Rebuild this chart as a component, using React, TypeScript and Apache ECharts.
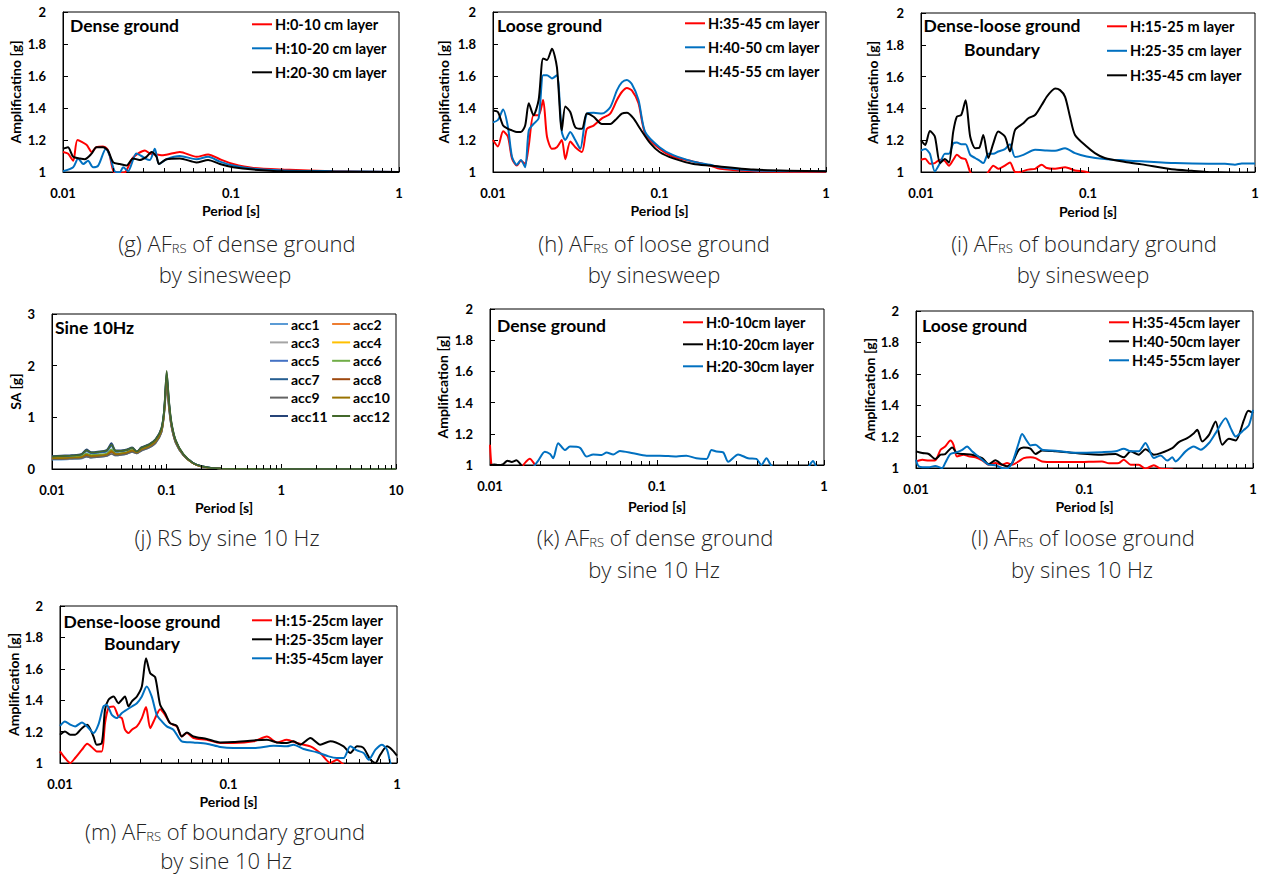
import React, { useEffect, useRef } from 'react';
import * as echarts from 'echarts';

// ---------------- DATA ----------------
// (g) dense ground, sinesweep  [period s, amplification]
const G_NAMES = ['H:0-10 cm layer', 'H:10-20 cm layer', 'H:20-30 cm layer'];
const G_RED = [[0.01,1.125],[0.0107,1.115],[0.0115,1.07],[0.0122,1.2],[0.0138,1.17],[0.0148,1.125],[0.0158,1.155],[0.0173,1.16],[0.0183,1.145],[0.019,1.1],[0.0201,1.0],[0.0218,0.995],[0.0235,1.0],[0.0261,1.09],[0.0307,1.135],[0.0329,1.115],[0.036,1.11],[0.0394,1.105],[0.0496,1.125],[0.0623,1.095],[0.0731,1.11],[0.0858,1.08],[0.103,1.05],[0.136,1.025],[0.205,1.015],[0.406,1.005],[1,1.0]];
const G_BLUE = [[0.01,1.005],[0.0115,1.03],[0.0123,1.085],[0.0132,1.05],[0.0141,1.07],[0.0151,1.03],[0.0162,1.04],[0.018,1.145],[0.019,1.1],[0.0203,1.005],[0.0218,0.998],[0.0228,1.03],[0.0244,1.005],[0.0273,1.115],[0.0293,1.1],[0.0314,1.08],[0.0329,1.075],[0.0352,1.145],[0.0373,1.05],[0.0413,1.08],[0.0496,1.1],[0.0623,1.08],[0.0731,1.095],[0.0858,1.065],[0.103,1.04],[0.136,1.02],[0.205,1.01],[0.406,1.005],[1,1.0]];
const G_BLACK = [[0.01,1.145],[0.0107,1.155],[0.0115,1.095],[0.0126,1.085],[0.0135,1.08],[0.0148,1.115],[0.0158,1.155],[0.0173,1.155],[0.0185,1.135],[0.0199,1.06],[0.0218,1.05],[0.0239,1.04],[0.0261,1.085],[0.0286,1.075],[0.0314,1.095],[0.0336,1.125],[0.036,1.095],[0.0373,1.05],[0.0413,1.08],[0.0496,1.085],[0.0623,1.06],[0.0731,1.075],[0.0858,1.05],[0.103,1.03],[0.136,1.015],[0.205,1.005],[1,1.0]];

// (h) loose ground, sinesweep
const H_NAMES = ['H:35-45 cm layer', 'H:40-50 cm layer', 'H:45-55 cm layer'];
const H_RED = [[0.01,1.2],[0.0107,1.16],[0.0115,1.255],[0.0123,1.22],[0.013,1.085],[0.0139,1.04],[0.0147,1.07],[0.0156,1.05],[0.0164,1.165],[0.0175,1.355],[0.0188,1.355],[0.02,1.45],[0.0211,1.22],[0.0226,1.145],[0.0242,1.155],[0.0259,1.2],[0.0272,1.08],[0.0291,1.19],[0.0312,1.155],[0.0342,1.125],[0.0366,1.27],[0.0402,1.29],[0.0451,1.335],[0.0506,1.365],[0.0555,1.45],[0.0594,1.5],[0.0637,1.525],[0.0682,1.51],[0.0748,1.43],[0.082,1.24],[0.1,1.145],[0.121,1.095],[0.16,1.065],[0.201,1.04],[0.231,1.02],[0.366,1.005],[1,1.0]];
const H_BLUE = [[0.01,1.31],[0.0107,1.325],[0.0115,1.39],[0.0123,1.28],[0.013,1.095],[0.0139,1.045],[0.0147,1.075],[0.0156,1.03],[0.0164,1.26],[0.0175,1.3],[0.0188,1.335],[0.02,1.605],[0.0211,1.605],[0.0226,1.585],[0.0242,1.605],[0.0259,1.25],[0.0272,1.2],[0.0291,1.25],[0.0312,1.2],[0.0334,1.145],[0.0366,1.365],[0.0402,1.37],[0.0451,1.365],[0.0506,1.405],[0.0555,1.51],[0.0594,1.56],[0.0637,1.575],[0.0682,1.55],[0.0748,1.45],[0.082,1.25],[0.1,1.155],[0.121,1.105],[0.16,1.065],[0.201,1.045],[0.231,1.03],[0.366,1.01],[1,1.005]];
const H_BLACK = [[0.01,1.385],[0.0107,1.375],[0.0115,1.29],[0.0123,1.27],[0.013,1.26],[0.0139,1.25],[0.0147,1.25],[0.0156,1.29],[0.0164,1.43],[0.0175,1.355],[0.0188,1.45],[0.02,1.71],[0.0211,1.7],[0.0226,1.77],[0.0242,1.655],[0.0259,1.26],[0.0272,1.41],[0.0291,1.375],[0.0312,1.28],[0.0342,1.27],[0.0366,1.365],[0.0402,1.345],[0.0451,1.3],[0.0506,1.3],[0.0555,1.335],[0.0594,1.365],[0.0637,1.37],[0.0698,1.335],[0.0766,1.27],[0.0879,1.18],[0.1,1.125],[0.121,1.085],[0.16,1.05],[0.201,1.04],[0.366,1.015],[1,1.005]];

// (i) boundary ground, sinesweep
const I_NAMES = ['H:15-25 m layer', 'H:25-35 cm layer', 'H:35-45 cm layer'];
const I_RED = [[0.01,1.077],[0.0106,1.083],[0.0113,1.052],[0.0121,1.056],[0.013,1.077],[0.0139,1.069],[0.0147,1.04],[0.0156,1.077],[0.0164,1.108],[0.0174,1.088],[0.0185,1.08],[0.0197,1.0],[0.021,0.96],[0.0236,0.96],[0.0253,1.0],[0.0271,1.04],[0.029,1.02],[0.0318,1.04],[0.0341,1.06],[0.0366,1.0],[0.0383,0.999],[0.0439,1.015],[0.0482,1.02],[0.0528,1.046],[0.0566,1.025],[0.0635,1.02],[0.0729,1.03],[0.0836,1.01],[0.0982,1.0],[0.11,0.97],[0.2,0.95],[1,0.95]];
const I_BLUE = [[0.01,1.135],[0.0106,1.144],[0.0113,1.115],[0.0121,1.004],[0.013,1.056],[0.0139,1.115],[0.0147,1.115],[0.0156,1.18],[0.0164,1.185],[0.0174,1.175],[0.0185,1.175],[0.0197,1.108],[0.0211,1.088],[0.0223,1.073],[0.0236,1.056],[0.0253,1.115],[0.0271,1.115],[0.029,1.129],[0.0318,1.144],[0.0341,1.175],[0.0366,1.094],[0.041,1.108],[0.0482,1.14],[0.0566,1.135],[0.0635,1.133],[0.0729,1.15],[0.0836,1.119],[0.0982,1.098],[0.126,1.081],[0.167,1.073],[0.21,1.067],[0.332,1.056],[0.526,1.052],[0.661,1.052],[0.759,1.046],[0.832,1.054],[1,1.054]];
const I_BLACK = [[0.01,1.2],[0.0106,1.17],[0.0113,1.258],[0.0121,1.223],[0.013,1.056],[0.0139,1.081],[0.0147,1.06],[0.0156,1.254],[0.0164,1.348],[0.0174,1.358],[0.0185,1.452],[0.0197,1.223],[0.0211,1.15],[0.0223,1.152],[0.0236,1.233],[0.0253,1.088],[0.0271,1.18],[0.029,1.254],[0.0318,1.223],[0.0341,1.129],[0.0366,1.265],[0.041,1.306],[0.0439,1.338],[0.0482,1.358],[0.0528,1.421],[0.0566,1.473],[0.0606,1.51],[0.0635,1.525],[0.068,1.515],[0.0729,1.473],[0.078,1.348],[0.0836,1.233],[0.0982,1.16],[0.11,1.119],[0.126,1.088],[0.167,1.063],[0.21,1.048],[0.332,1.015],[0.418,1.008],[0.526,1.0],[1,0.99]];

// (j) response spectra, sine 10 Hz
const J_NAMES = ['acc1','acc2','acc3','acc4','acc5','acc6','acc7','acc8','acc9','acc10','acc11','acc12'];
const J_PERIODS = [0.01,0.012,0.015,0.018,0.02,0.022,0.025,0.03,0.033,0.036,0.04,0.045,0.05,0.055,0.06,0.07,0.08,0.09,0.095,0.1,0.105,0.11,0.12,0.14,0.17,0.2,0.25,0.3,0.5,1,3,10];
const J_ACC1 = [0.18,0.18,0.19,0.2,0.24,0.22,0.23,0.25,0.3,0.26,0.27,0.29,0.33,0.3,0.35,0.41,0.5,0.7,1.05,1.6,1.15,0.82,0.5,0.26,0.11,0.05,0.02,0.01,0.003,0,0,0];
const J_ACC2 = [0.2,0.2,0.21,0.22,0.27,0.24,0.25,0.27,0.34,0.28,0.29,0.31,0.35,0.31,0.37,0.43,0.52,0.73,1.08,1.7,1.2,0.85,0.52,0.27,0.11,0.05,0.02,0.01,0.003,0,0,0];
const J_ACC3 = [0.19,0.19,0.2,0.21,0.25,0.23,0.24,0.26,0.31,0.27,0.28,0.3,0.34,0.3,0.36,0.42,0.51,0.71,1.06,1.65,1.17,0.83,0.51,0.26,0.11,0.05,0.02,0.01,0.003,0,0,0];
const J_ACC4 = [0.21,0.21,0.22,0.23,0.28,0.25,0.26,0.28,0.36,0.29,0.3,0.32,0.36,0.32,0.38,0.44,0.53,0.74,1.09,1.72,1.22,0.86,0.53,0.27,0.11,0.05,0.02,0.01,0.003,0,0,0];
const J_ACC5 = [0.23,0.24,0.25,0.27,0.34,0.3,0.31,0.34,0.44,0.33,0.34,0.36,0.4,0.33,0.4,0.46,0.56,0.77,1.12,1.8,1.26,0.88,0.54,0.28,0.12,0.06,0.02,0.01,0.003,0,0,0];
const J_ACC6 = [0.22,0.22,0.23,0.25,0.3,0.27,0.28,0.3,0.38,0.3,0.31,0.33,0.37,0.32,0.38,0.44,0.54,0.75,1.1,1.75,1.24,0.87,0.53,0.27,0.11,0.05,0.02,0.01,0.003,0,0,0];
const J_ACC7 = [0.24,0.25,0.26,0.28,0.36,0.31,0.32,0.35,0.46,0.34,0.35,0.37,0.41,0.34,0.41,0.47,0.57,0.78,1.13,1.84,1.28,0.89,0.55,0.28,0.12,0.06,0.02,0.01,0.003,0,0,0];
const J_ACC8 = [0.2,0.2,0.21,0.22,0.26,0.24,0.25,0.27,0.33,0.28,0.29,0.31,0.35,0.31,0.37,0.43,0.52,0.72,1.07,1.68,1.19,0.84,0.52,0.27,0.11,0.05,0.02,0.01,0.003,0,0,0];
const J_ACC9 = [0.19,0.19,0.2,0.21,0.24,0.22,0.23,0.25,0.29,0.26,0.27,0.29,0.33,0.3,0.35,0.41,0.5,0.7,1.04,1.58,1.14,0.81,0.5,0.26,0.11,0.05,0.02,0.01,0.003,0,0,0];
const J_ACC10 = [0.21,0.21,0.22,0.23,0.28,0.25,0.26,0.28,0.35,0.29,0.3,0.32,0.36,0.32,0.38,0.44,0.53,0.74,1.09,1.73,1.22,0.86,0.53,0.27,0.11,0.05,0.02,0.01,0.003,0,0,0];
const J_ACC11 = [0.25,0.26,0.27,0.29,0.38,0.33,0.34,0.37,0.5,0.36,0.36,0.38,0.42,0.34,0.42,0.48,0.58,0.8,1.15,1.88,1.3,0.9,0.55,0.28,0.12,0.06,0.02,0.01,0.003,0,0,0];
const J_ACC12 = [0.24,0.25,0.26,0.28,0.36,0.32,0.33,0.36,0.47,0.35,0.35,0.37,0.41,0.34,0.41,0.47,0.57,0.79,1.15,1.9,1.32,0.92,0.56,0.29,0.12,0.06,0.02,0.01,0.003,0,0,0];
const J_VALUES = [J_ACC1,J_ACC2,J_ACC3,J_ACC4,J_ACC5,J_ACC6,J_ACC7,J_ACC8,J_ACC9,J_ACC10,J_ACC11,J_ACC12];

// (k) dense ground, sine 10 Hz
const K_NAMES = ['H:0-10cm layer', 'H:10-20cm layer', 'H:20-30cm layer'];
const K_RED = [[0.01,1.13],[0.0102,1.0],[0.0105,0.96],[0.015,0.96],[0.0158,0.998],[0.0164,1.02],[0.0173,1.04],[0.0183,1.012],[0.019,0.98],[0.025,0.95],[1,0.95]];
const K_BLACK = [[0.01,0.999],[0.0106,1.003],[0.0112,1.0],[0.012,1.006],[0.0127,1.028],[0.0135,1.02],[0.0144,1.03],[0.0151,1.01],[0.0158,0.985],[0.02,0.95],[1,0.95]];
const K_BLUE = [[0.01,0.95],[0.0175,0.96],[0.0186,1.0],[0.0195,1.03],[0.0213,1.085],[0.0229,1.07],[0.0239,1.043],[0.0256,1.14],[0.0281,1.096],[0.0301,1.118],[0.0346,1.11],[0.0379,1.054],[0.0415,1.068],[0.0466,1.064],[0.0499,1.08],[0.0547,1.068],[0.0599,1.09],[0.072,1.075],[0.0866,1.06],[0.104,1.06],[0.131,1.054],[0.15,1.06],[0.172,1.043],[0.198,1.039],[0.212,1.096],[0.227,1.086],[0.249,1.081],[0.267,1.021],[0.306,1.068],[0.351,1.043],[0.394,1.039],[0.422,1.0],[0.452,1.043],[0.484,0.995],[0.55,0.95],[0.78,0.95],[0.821,1.0],[0.86,1.026],[0.9,0.99],[1,0.95]];

// (l) loose ground, sine 10 Hz
const L_NAMES = ['H:35-45cm layer', 'H:40-50cm layer', 'H:45-55cm layer'];
const L_RED = [[0.01,1.042],[0.0109,1.053],[0.0119,1.047],[0.013,1.049],[0.014,1.116],[0.0149,1.137],[0.016,1.175],[0.0167,1.148],[0.0175,1.074],[0.0192,1.085],[0.0206,1.074],[0.0225,1.068],[0.0247,1.049],[0.027,1.021],[0.0296,1.032],[0.0324,1.021],[0.0347,1.032],[0.0372,1.021],[0.0407,1.042],[0.0436,1.063],[0.0478,1.068],[0.0512,1.063],[0.056,1.042],[0.0672,1.038],[0.0884,1.038],[0.127,1.042],[0.14,1.03],[0.16,1.032],[0.171,1.053],[0.188,1.021],[0.21,1.021],[0.23,0.996],[0.258,1.017],[0.283,0.996],[0.332,0.99],[0.4,0.96],[1,0.95]];
const L_BLACK = [[0.01,1.106],[0.0109,1.095],[0.0119,1.089],[0.013,1.057],[0.014,1.085],[0.0149,1.089],[0.0164,1.131],[0.0175,1.095],[0.0192,1.089],[0.0215,1.085],[0.0247,1.063],[0.027,1.025],[0.0296,1.049],[0.0324,1.021],[0.0347,1.011],[0.0372,1.032],[0.0407,1.116],[0.0436,1.131],[0.0478,1.123],[0.0512,1.089],[0.056,1.112],[0.0672,1.106],[0.0884,1.095],[0.127,1.085],[0.153,1.089],[0.171,1.068],[0.188,1.106],[0.21,1.085],[0.23,1.12],[0.258,1.085],[0.283,1.095],[0.332,1.127],[0.363,1.165],[0.407,1.19],[0.446,1.222],[0.467,1.243],[0.5,1.169],[0.548,1.211],[0.6,1.296],[0.657,1.148],[0.72,1.186],[0.789,1.175],[0.884,1.307],[0.938,1.364],[1,1.349]];
const L_BLUE = [[0.01,1.053],[0.0104,1.011],[0.0119,1.004],[0.013,1.013],[0.0143,1.0],[0.0149,1.032],[0.016,1.089],[0.0175,1.101],[0.0188,1.116],[0.0201,1.137],[0.0215,1.106],[0.0247,1.053],[0.027,1.021],[0.0296,1.017],[0.0324,1.0],[0.0347,0.996],[0.0372,1.032],[0.0407,1.159],[0.0426,1.216],[0.0457,1.169],[0.0478,1.144],[0.0512,1.148],[0.056,1.116],[0.0672,1.11],[0.0884,1.097],[0.127,1.101],[0.153,1.106],[0.171,1.123],[0.188,1.106],[0.21,1.106],[0.23,1.159],[0.258,1.063],[0.283,1.08],[0.31,1.047],[0.332,1.068],[0.347,1.042],[0.398,1.106],[0.446,1.137],[0.489,1.116],[0.548,1.159],[0.6,1.222],[0.688,1.317],[0.737,1.254],[0.789,1.201],[0.884,1.243],[0.947,1.275],[1,1.37]];

// (m) boundary ground, sine 10 Hz
const M_NAMES = ['H:15-25cm layer', 'H:25-35cm layer', 'H:35-45cm layer'];
const M_RED = [[0.01,1.074],[0.0107,1.032],[0.0115,1.0],[0.0123,1.032],[0.0135,1.085],[0.0145,1.123],[0.0158,1.091],[0.0165,1.074],[0.0177,1.074],[0.0185,1.254],[0.0194,1.35],[0.0208,1.36],[0.0222,1.297],[0.0233,1.286],[0.0243,1.212],[0.0255,1.191],[0.0267,1.212],[0.0286,1.233],[0.0306,1.286],[0.0324,1.356],[0.0343,1.222],[0.0367,1.286],[0.0393,1.343],[0.042,1.307],[0.045,1.254],[0.0493,1.233],[0.0528,1.169],[0.0566,1.191],[0.0619,1.159],[0.0743,1.148],[0.0892,1.127],[0.107,1.127],[0.141,1.138],[0.169,1.169],[0.194,1.131],[0.222,1.148],[0.255,1.127],[0.306,1.106],[0.35,1.064],[0.402,1.0],[0.44,1.021],[0.482,0.99],[0.6,0.95],[1,0.95]];
const M_BLACK = [[0.01,1.18],[0.0107,1.201],[0.0115,1.18],[0.0123,1.18],[0.0135,1.222],[0.0145,1.244],[0.0158,1.169],[0.0165,1.117],[0.0177,1.127],[0.0185,1.339],[0.0194,1.403],[0.0208,1.424],[0.0222,1.381],[0.0233,1.403],[0.0243,1.424],[0.0255,1.36],[0.0267,1.392],[0.0286,1.424],[0.0306,1.487],[0.0324,1.667],[0.0343,1.572],[0.0367,1.547],[0.0393,1.371],[0.042,1.318],[0.045,1.254],[0.0493,1.237],[0.0528,1.169],[0.0566,1.195],[0.0619,1.169],[0.0743,1.153],[0.0892,1.131],[0.107,1.133],[0.141,1.144],[0.169,1.148],[0.194,1.131],[0.222,1.127],[0.243,1.138],[0.267,1.117],[0.306,1.159],[0.35,1.117],[0.402,1.138],[0.482,1.106],[0.528,1.064],[0.579,1.106],[0.634,1.095],[0.695,1.021],[0.744,1.0],[0.796,1.053],[0.872,1.106],[0.934,1.085],[1,1.047]];
const M_BLUE = [[0.01,1.237],[0.0107,1.265],[0.0115,1.244],[0.0123,1.233],[0.0135,1.258],[0.0145,1.233],[0.0158,1.191],[0.0169,1.244],[0.0181,1.36],[0.0189,1.371],[0.0203,1.307],[0.0217,1.286],[0.0233,1.318],[0.0249,1.339],[0.0267,1.36],[0.0286,1.381],[0.0306,1.424],[0.0327,1.487],[0.035,1.424],[0.0375,1.307],[0.0402,1.265],[0.043,1.233],[0.0471,1.212],[0.0528,1.138],[0.0619,1.131],[0.0743,1.123],[0.0892,1.102],[0.107,1.095],[0.141,1.095],[0.185,1.11],[0.222,1.106],[0.243,1.117],[0.279,1.089],[0.335,1.068],[0.393,1.042],[0.44,1.032],[0.482,1.032],[0.528,1.106],[0.579,1.08],[0.634,1.064],[0.679,1.021],[0.745,1.085],[0.815,1.117],[0.872,1.085],[0.913,1.0],[0.955,0.95],[1,0.95]];

// axis minor tick positions (log axis)
const MINOR_TICKS = [0.02,0.03,0.04,0.05,0.06,0.07,0.08,0.09,0.2,0.3,0.4,0.5,0.6,0.7,0.8,0.9];
const MINOR_TICKS_J = [...MINOR_TICKS, 2,3,4,5,6,7,8,9];

// ---------------- STYLE / LAYOUT ----------------
const RED = '#FF0000';
const BLUE = '#0070C0';
const BLACK = '#000000';
const J_COLORS = ['#5B9BD5','#ED7D31','#A5A5A5','#FFC000','#4472C4','#70AD47','#255E91','#9E480E','#636363','#997300','#264478','#43682B'];
const FONT = 'Lato, "Liberation Sans", sans-serif';
const CAP_FONT = '"Open Sans", "Noto Sans", sans-serif';

const zip = (xs: number[], ys: number[]) => xs.map((x, i) => [x, ys[i]]);

const PANELS: any[] = [
  { rect: [63, 12, 336, 160], xMax: 1, yMin: 1, yMax: 2, yInt: 0.2, yName: 'Amplificatino [g]', yNameGap: 41, xNameGap: 31,
    names: G_NAMES, colors: [RED, BLUE, BLACK], data: [G_RED, G_BLUE, G_BLACK],
    legend: { left: 252, top: 16.8, gap: 9, fs: 14.5 } },
  { rect: [493, 12, 333, 160], xMax: 1, yMin: 1, yMax: 2, yInt: 0.2, yName: 'Amplificatino [g]', yNameGap: 43, xNameGap: 31,
    names: H_NAMES, colors: [RED, BLUE, BLACK], data: [H_RED, H_BLUE, H_BLACK],
    legend: { left: 685, top: 15.8, gap: 9, fs: 14.5 } },
  { rect: [921, 13, 334, 159], xMax: 1, yMin: 1, yMax: 2, yInt: 0.2, yName: 'Amplificatino [g]', yNameGap: 42, xNameGap: 32,
    names: I_NAMES, colors: [RED, BLUE, BLACK], data: [I_RED, I_BLUE, I_BLACK],
    legend: { left: 1107, top: 18.8, gap: 9.5, fs: 14.5 } },
  { rect: [52, 314, 344, 155], xMax: 10, yMin: 0, yMax: 3, yInt: 1, yName: 'SA [g]', yNameGap: 30, xNameGap: 31,
    names: J_NAMES, colors: J_COLORS, data: J_VALUES.map(v => zip(J_PERIODS, v)), width: 1.6,
    legend: { left: 270, top: 317, gap: 4.4, fs: 14, height: 110, iw: 18,
      order: ['acc1','acc3','acc5','acc7','acc9','acc11','acc2','acc4','acc6','acc8','acc10','acc12'] } },
  { rect: [490, 309, 334, 156], xMax: 1, yMin: 1, yMax: 2, yInt: 0.2, yName: 'Amplification [g]', yNameGap: 41, xNameGap: 34,
    names: K_NAMES, colors: [RED, BLACK, BLUE], data: [K_RED, K_BLACK, K_BLUE],
    legend: { left: 683, top: 314.8, gap: 7, fs: 14.5 } },
  { rect: [916, 311, 337, 157], xMax: 1, yMin: 1, yMax: 2, yInt: 0.2, yName: 'Amplification [g]', yNameGap: 40, xNameGap: 31,
    names: L_NAMES, colors: [RED, BLACK, BLUE], data: [L_RED, L_BLACK, L_BLUE],
    legend: { left: 1109, top: 314.8, gap: 4, fs: 14.5 } },
  { rect: [60, 606, 337, 157], xMax: 1, yMin: 1, yMax: 2, yInt: 0.2, yName: 'Amplification [g]', yNameGap: 40, xNameGap: 31,
    names: M_NAMES, colors: [RED, BLACK, BLUE], data: [M_RED, M_BLACK, M_BLUE],
    legend: { left: 252, top: 612.8, gap: 4, fs: 14.5 } },
];

const TITLES = [
  { text: 'Dense ground', x: 70, y: 25, align: 'left' },
  { text: 'Loose ground', x: 497, y: 25, align: 'left' },
  { text: 'Dense-loose ground\nBoundary', x: 1002, y: 37, align: 'center', lh: 24 },
  { text: 'Sine 10Hz', x: 55, y: 327, align: 'left' },
  { text: 'Dense ground', x: 497, y: 325, align: 'left' },
  { text: 'Loose ground', x: 922, y: 325, align: 'left' },
  { text: 'Dense-loose ground\nBoundary', x: 142, y: 632, align: 'center', lh: 22 },
];

const CAPTIONS = [
  { text: '{a|(g) AF}{s|RS}{a| of dense ground}', x: 237, y: 241 },
  { text: '{a|by sinesweep}', x: 225, y: 272 },
  { text: '{a|(h) AF}{s|RS}{a| of loose ground}', x: 654, y: 241 },
  { text: '{a|by sinesweep}', x: 654, y: 272 },
  { text: '{a|(i) AF}{s|RS}{a| of boundary ground}', x: 1084, y: 241 },
  { text: '{a|by sinesweep}', x: 1083, y: 272 },
  { text: '{a|(j) RS by sine 10 Hz}', x: 227, y: 535 },
  { text: '{a|(k) AF}{s|RS}{a| of dense ground}', x: 655, y: 535 },
  { text: '{a|by sine 10 Hz}', x: 654, y: 567 },
  { text: '{a|(l) AF}{s|RS}{a| of loose ground}', x: 1083, y: 535 },
  { text: '{a|by sines 10 Hz}', x: 1082, y: 567 },
  { text: '{a|(m) AF}{s|RS}{a| of boundary ground}', x: 225, y: 829 },
  { text: '{a|by sine 10 Hz}', x: 226, y: 858 },
];

function buildOption() {
  const grid: any[] = [];
  const xAxis: any[] = [];
  const yAxis: any[] = [];
  const series: any[] = [];
  const legend: any[] = [];

  PANELS.forEach((p, idx) => {
    const [left, top, width, height] = p.rect;
    grid.push({ left, top, width, height, show: true, borderColor: '#000', borderWidth: 1, backgroundColor: 'transparent' });
    xAxis.push({
      type: 'log', logBase: 10, min: 0.01, max: p.xMax, gridIndex: idx,
      name: 'Period [s]', nameLocation: 'middle', nameGap: p.xNameGap,
      nameTextStyle: { fontFamily: FONT, fontWeight: 'bold', fontSize: 14, color: '#000' },
      axisLine: { show: true, lineStyle: { color: '#000', width: 1 } },
      axisTick: { show: true, inside: true, length: 5, lineStyle: { color: '#000' } },
      axisLabel: { fontFamily: FONT, fontWeight: 'bold', fontSize: 13, color: '#000', margin: 14,
        formatter: (v: number) => String(parseFloat(Number(v).toPrecision(6))) },
      splitLine: { show: false },
      minorTick: { show: false },
    });
    yAxis.push({
      type: 'value', min: p.yMin, max: p.yMax, interval: p.yInt, gridIndex: idx,
      name: p.yName, nameLocation: 'middle', nameGap: p.yNameGap, nameRotate: 90,
      nameTextStyle: { fontFamily: FONT, fontWeight: 'bold', fontSize: 14, color: '#000' },
      axisLine: { show: true, lineStyle: { color: '#000', width: 1 } },
      axisTick: { show: true, inside: true, length: 5, lineStyle: { color: '#000' } },
      axisLabel: { fontFamily: FONT, fontWeight: 'bold', fontSize: 13, color: '#000', margin: 17 },
      splitLine: { show: false },
    });

    const ticks = p.xMax === 10 ? MINOR_TICKS_J : MINOR_TICKS;
    const tickLen = (p.yMax - p.yMin) * 4 / height;

    p.names.forEach((name: string, si: number) => {
      const s: any = {
        type: 'line', name, xAxisIndex: idx, yAxisIndex: idx,
        data: p.data[si], symbol: 'none', showSymbol: false, smooth: 0.25, clip: true,
        lineStyle: { color: p.colors[si], width: p.width || 2 },
        itemStyle: { color: p.colors[si] },
        emphasis: { disabled: true },
      };
      if (si === 0) {
        s.markLine = {
          silent: true, symbol: ['none', 'none'], label: { show: false },
          lineStyle: { color: '#000', width: 1, type: 'solid' },
          emphasis: { disabled: true },
          data: ticks.map((t: number) => [{ coord: [t, p.yMin] }, { coord: [t, p.yMin + tickLen] }]),
        };
      }
      series.push(s);
    });

    const lg = p.legend;
    const order: string[] = lg.order || p.names;
    legend.push({
      orient: 'vertical', left: lg.left, top: lg.top, height: lg.height, padding: 0,
      itemGap: lg.gap, itemWidth: lg.iw || 20, itemHeight: 2, icon: 'rect', selectedMode: false,
      textStyle: { fontFamily: FONT, fontWeight: 'bold', fontSize: lg.fs, color: '#000', padding: [0, 0, 0, -2] },
      data: order.map((n) => {
        const c = p.colors[p.names.indexOf(n)];
        return { name: n, itemStyle: { color: c }, lineStyle: { color: c } };
      }),
    });
  });

  const graphic: any[] = [];
  TITLES.forEach((t) => {
    graphic.push({
      type: 'text', x: t.x, y: t.y, silent: true,
      style: { text: t.text, fontFamily: FONT, fontWeight: 'bold', fontSize: 17.5, fill: '#000',
        align: t.align, verticalAlign: 'middle', lineHeight: t.lh || 20 },
    });
  });
  CAPTIONS.forEach((c) => {
    graphic.push({
      type: 'text', x: c.x, y: c.y, silent: true,
      style: {
        text: c.text, align: 'center', verticalAlign: 'middle',
        rich: {
          a: { fontFamily: CAP_FONT, fontWeight: 300, fontSize: 22, fill: '#222', lineHeight: 26, verticalAlign: 'bottom' },
          s: { fontFamily: CAP_FONT, fontWeight: 300, fontSize: 13, fill: '#222', lineHeight: 18, verticalAlign: 'bottom' },
        },
      },
    });
  });

  return { animation: false, backgroundColor: '#fff', grid, xAxis, yAxis, series, legend, graphic };
}

export default function App() {
  const ref = useRef<HTMLDivElement>(null);
  useEffect(() => {
    if (!ref.current) return;
    const chart = echarts.init(ref.current, undefined, { renderer: 'svg' });
    chart.setOption(buildOption() as any);
    return () => chart.dispose();
  }, []);
  return <div ref={ref} style={{ position: 'fixed', left: 0, top: 0, width: 1262, height: 879, background: '#fff' }} />;
}
